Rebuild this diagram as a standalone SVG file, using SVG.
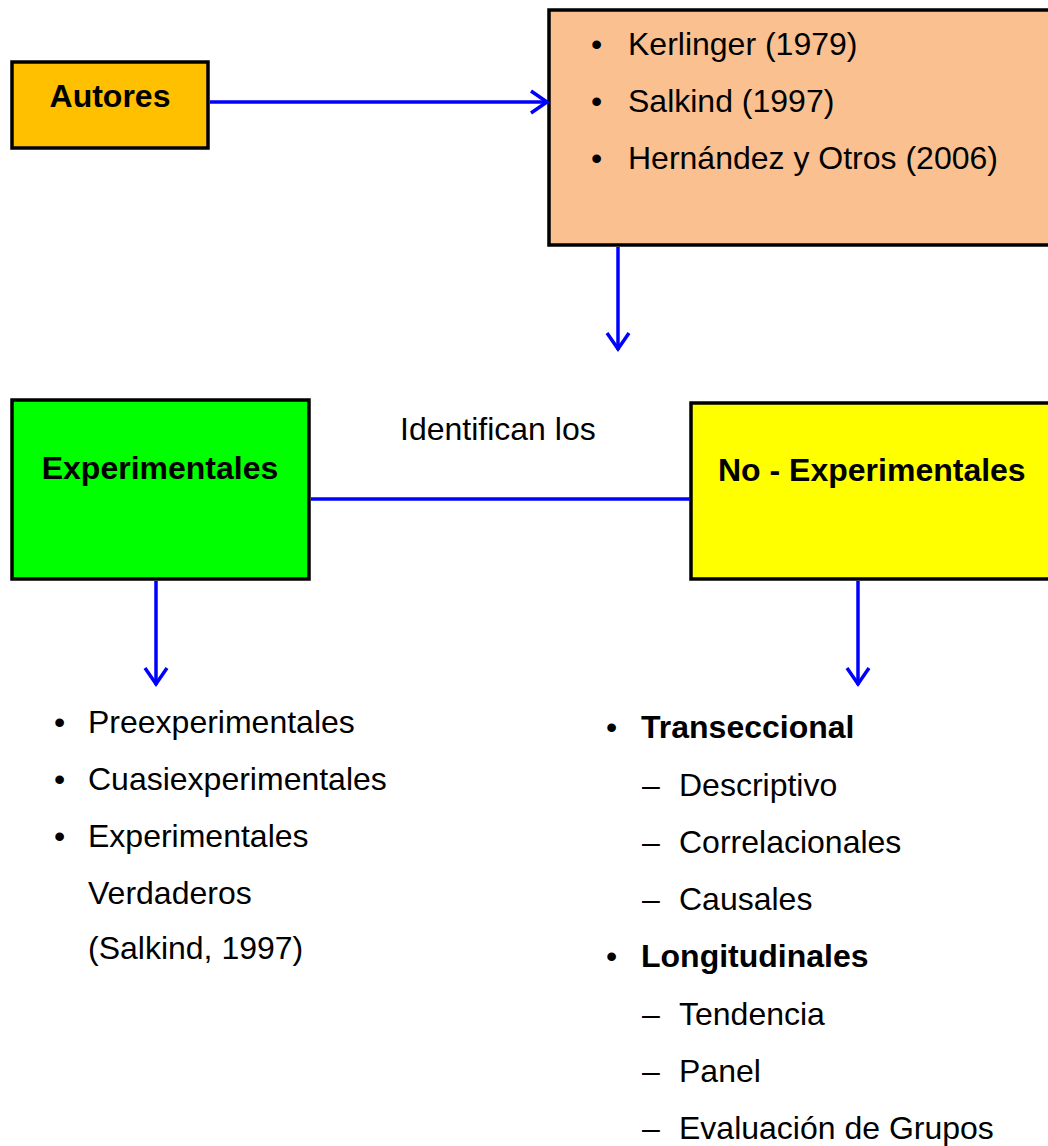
<svg xmlns="http://www.w3.org/2000/svg" width="1048" height="1146" viewBox="0 0 1048 1146">
<defs>
<marker id="arr" markerUnits="userSpaceOnUse" markerWidth="28" markerHeight="28" refX="22" refY="14" orient="auto">
<path d="M5,3 L21,14 L5,25" fill="none" stroke="#0000FF" stroke-width="3.5"/>
</marker>
</defs>
<style>
.box{stroke:#000;stroke-width:3.5}
.t{font-family:"Liberation Sans",Arial,sans-serif;font-size:32px;fill:#000}
.b{font-weight:bold}
.c{stroke:#0000FF;stroke-width:3.5;fill:none}
</style>
<rect width="1048" height="1146" fill="#fff"/>
<g id="autores">
<rect class="box" x="12" y="62" width="196" height="86" fill="#FFC000"/>
<text class="t b" x="110" y="107" text-anchor="middle">Autores</text>
</g>
<g id="autores-lista">
<rect class="box" x="549" y="10" width="520" height="235" fill="#FAC090"/>
<text class="t" x="591" y="55">•</text><text class="t" x="628" y="55">Kerlinger (1979)</text>
<text class="t" x="591" y="112">•</text><text class="t" x="628" y="112">Salkind (1997)</text>
<text class="t" x="591" y="169">•</text><text class="t" x="628" y="169">Hernández y Otros (2006)</text>
</g>
<g id="experimentales">
<rect class="box" x="12" y="400" width="297" height="179" fill="#00FF00"/>
<text class="t b" x="160" y="479" text-anchor="middle">Experimentales</text>
</g>
<g id="no-experimentales">
<rect class="box" x="691" y="403" width="380" height="176" fill="#FFFF00"/>
<text class="t b" x="718" y="481">No - Experimentales</text>
</g>
<g id="label">
<text class="t" x="400" y="440">Identifican los</text>
</g>
<g id="lista-exp">
<text class="t" x="54" y="733">•</text><text class="t" x="88" y="733">Preexperimentales</text>
<text class="t" x="54" y="790">•</text><text class="t" x="88" y="790">Cuasiexperimentales</text>
<text class="t" x="54" y="847">•</text><text class="t" x="88" y="847">Experimentales</text>
<text class="t" x="88" y="904">Verdaderos</text>
<text class="t" x="88" y="959">(Salkind, 1997)</text>
</g>
<g id="lista-noexp">
<text class="t" x="606" y="738">•</text><text class="t b" x="641" y="738">Transeccional</text>
<text class="t" x="642" y="796">–</text><text class="t" x="679" y="796">Descriptivo</text>
<text class="t" x="642" y="853">–</text><text class="t" x="679" y="853">Correlacionales</text>
<text class="t" x="642" y="910">–</text><text class="t" x="679" y="910">Causales</text>
<text class="t" x="606" y="967">•</text><text class="t b" x="641" y="967">Longitudinales</text>
<text class="t" x="642" y="1025">–</text><text class="t" x="679" y="1025">Tendencia</text>
<text class="t" x="642" y="1082">–</text><text class="t" x="679" y="1082">Panel</text>
<text class="t" x="642" y="1139">–</text><text class="t" x="679" y="1139">Evaluación de Grupos</text>
</g>
<g id="connectors">
<line class="c" x1="210" y1="102" x2="548" y2="102" marker-end="url(#arr)"/>
<line class="c" x1="618" y1="247" x2="618" y2="350" marker-end="url(#arr)"/>
<line class="c" x1="311" y1="499" x2="690" y2="499"/>
<line class="c" x1="156" y1="581" x2="156" y2="685" marker-end="url(#arr)"/>
<line class="c" x1="858" y1="581" x2="858" y2="685" marker-end="url(#arr)"/>
</g>
</svg>
